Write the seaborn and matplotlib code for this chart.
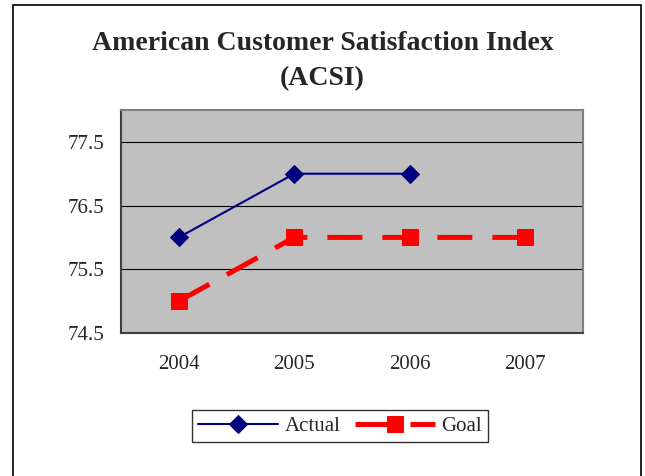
import pandas as pd
import matplotlib
matplotlib.use("Agg")
import matplotlib.pyplot as plt
import seaborn as sns
from matplotlib.patches import Rectangle

years = ["2004", "2005", "2006", "2007"]
actual = [76.0, 77.0, 77.0, None]
goal = [75.0, 76.0, 76.0, 76.0]
y_ticks = [74.5, 75.5, 76.5, 77.5]

df = pd.DataFrame({"Year": years, "Actual": actual, "Goal": goal})
df["x"] = range(len(years))

sns.set_style("white")
plt.rcParams["font.family"] = ["Liberation Serif", "DejaVu Serif"]

fig = plt.figure(figsize=(6.45, 4.76), dpi=100)
ax = fig.add_axes([0.1876, 0.3004, 0.7164, 0.4685])
ax.set_facecolor("#C0C0C0")

sns.lineplot(data=df.dropna(subset=["Actual"]), x="x", y="Actual", ax=ax,
             color="#000080", linewidth=1.5, marker="D", markersize=9,
             markeredgecolor="#000080", label="Actual")
sns.lineplot(data=df, x="x", y="Goal", ax=ax,
             color="#FF0000", linewidth=3.6, marker="s", markersize=11,
             markeredgecolor="#FF0000", label="Goal")
ax.lines[-1].set_dashes((7, 4))

ax.set_xlim(-0.5, 3.5)
ax.set_ylim(74.5, 78.0)
ax.set_yticks(y_ticks)
ax.set_yticklabels([f"{v:.1f}" for v in y_ticks], fontsize=15)
ax.set_xticks([i - 0.5 for i in range(len(years) + 1)])
ax.set_xticklabels([])
ax.set_xticks(range(len(years)), minor=True)
ax.set_xticklabels(years, minor=True, fontsize=15)
ax.tick_params(axis="x", which="minor", length=0, pad=16)
ax.tick_params(axis="x", which="major", length=5, width=1, color="black", direction="out")
ax.tick_params(axis="y", length=5, width=1, color="black", direction="out", pad=7)
ax.grid(axis="y", color="black", linewidth=0.8)
ax.set_axisbelow(True)
ax.set_xlabel("")
ax.set_ylabel("")

for side in ["top", "right"]:
    ax.spines[side].set_color("#808080")
    ax.spines[side].set_linewidth(1.5)
for side in ["left", "bottom"]:
    ax.spines[side].set_color("#404040")
    ax.spines[side].set_linewidth(1.5)

ax.get_legend().remove()
handles, labels = ax.get_legend_handles_labels()
leg = fig.legend(handles, labels, loc="center", bbox_to_anchor=(0.527, 0.105),
                 ncol=2, frameon=True, fancybox=False, edgecolor="black",
                 fontsize=15, handlelength=3.85, columnspacing=0.7,
                 handletextpad=0.3, borderpad=0.3, borderaxespad=0)
leg.get_frame().set_linewidth(1.0)

fig.text(0.5, 0.872, "American Customer Satisfaction Index\n(ACSI)",
         ha="center", va="center", fontsize=20, fontweight="bold",
         linespacing=1.5)

fig.patches.append(Rectangle((13 / 645, -0.05), 628 / 645, 1.05 - 5 / 476,
                             transform=fig.transFigure, fill=False,
                             edgecolor="black", linewidth=1.2))

fig.savefig("out.png", dpi=100)
